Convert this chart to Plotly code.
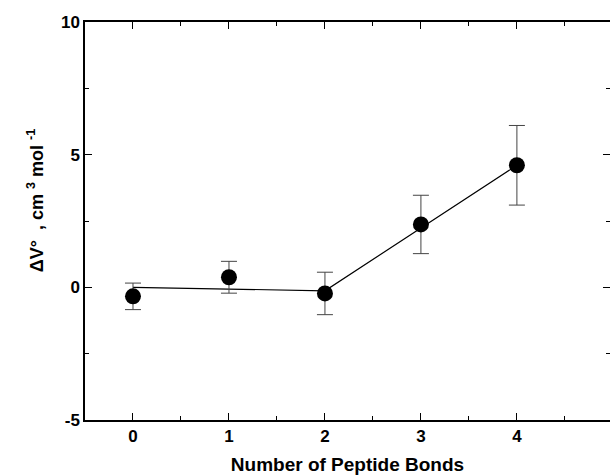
import plotly.graph_objects as go

bonds = [0, 1, 2, 3, 4]
dv = [-0.34, 0.38, -0.23, 2.37, 4.6]
err = [0.5, 0.6, 0.8, 1.1, 1.5]
fit_x = [0, 2, 4]
fit_y = [0.0, -0.13, 4.6]

fig = go.Figure()
fig.add_trace(go.Scatter(x=fit_x, y=fit_y, mode="lines",
                         line=dict(color="black", width=1.2), showlegend=False))
fig.add_trace(go.Scatter(x=bonds, y=dv, mode="markers",
                         marker=dict(color="black", size=16),
                         error_y=dict(type="data", array=err, color="#444", thickness=1, width=8),
                         showlegend=False))

font = dict(family="Liberation Sans, Arial", size=16, color="black")
tickfont = dict(family="Liberation Sans, Arial", size=17, color="black")
fig.update_layout(
    width=610, height=476,
    margin=dict(l=85, r=0, t=22, b=56, autoexpand=False),
    plot_bgcolor="white", paper_bgcolor="white",
    font=font,
)
fig.update_xaxes(range=[-0.5, 4.97], tickvals=[0, 1, 2, 3, 4, 5], ticktext=["<b>0</b>", "<b>1</b>", "<b>2</b>", "<b>3</b>", "<b>4</b>", "<b>5</b>"],
                 tickfont=tickfont,
                 ticks="inside", ticklen=7, tickwidth=1.2, tickcolor="black",
                 minor=dict(dtick=0.5, tick0=0, ticks="inside", ticklen=4, tickcolor="black"),
                 showline=True, linecolor="black", linewidth=1.5, mirror="ticks",
                 showgrid=False, zeroline=False, automargin=False,
                 title=dict(text="<b>Number of Peptide Bonds</b>", font=dict(size=19), standoff=13))
fig.update_yaxes(range=[-5, 10], tickvals=[-5, 0, 5, 10], ticktext=["<b>-5</b>", "<b>0</b>", "<b>5</b>", "<b>10</b>"],
                 tickfont=tickfont,
                 ticks="inside", ticklen=7, tickwidth=1.2, tickcolor="black",
                 minor=dict(dtick=2.5, tick0=0, ticks="inside", ticklen=4, tickcolor="black"),
                 showline=True, linecolor="black", linewidth=1.5, mirror="ticks",
                 showgrid=False, zeroline=False, automargin=False)
fig.add_annotation(text="<b>ΔV°  , cm <sup>3</sup> mol <sup>-1</sup></b>",
                   xref="paper", yref="paper", x=-0.095, y=0.55,
                   xanchor="center", yanchor="middle", textangle=-90,
                   showarrow=False, font=dict(size=18, color="black"))

fig.write_html("out.html", config={"displayModeBar": False},
               post_script="document.body.style.margin='0';document.body.style.overflow='hidden';")
